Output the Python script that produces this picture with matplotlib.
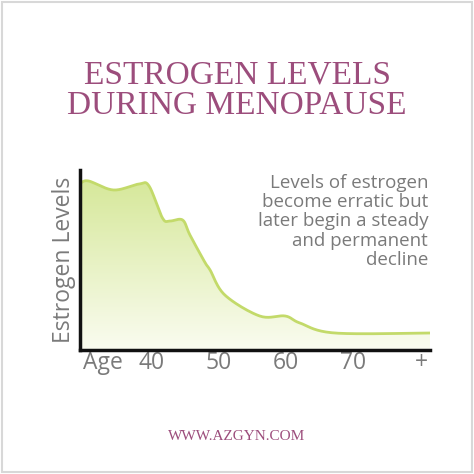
import numpy as np
import matplotlib.pyplot as plt
from matplotlib.patches import Polygon, Rectangle
from matplotlib.colors import LinearSegmentedColormap

# curve (age, relative level)
ages = [29.4, 30.6, 34.3, 38.1, 39.6, 41.6, 42.7, 44.6, 45.7, 47.9, 48.7, 50.9, 56.1, 59.9, 62.1, 67.3, 81.5]
levels = [167, 169, 160, 166, 164, 132, 129, 130, 115, 88, 80, 55, 34, 34, 27, 17, 17]
tick_pos = [32.7, 40, 50, 60, 70, 80.2]
tick_lab = ["Age", "40", "50", "60", "70", "+"]


def smooth(x, y, n=20):
    # catmull-rom through the read points, just for drawing
    x = np.asarray(x, float)
    y = np.asarray(y, float)
    px = np.concatenate([[x[0]], x, [x[-1]]])
    py = np.concatenate([[y[0]], y, [y[-1]]])
    ox, oy = [], []
    t = np.linspace(0, 1, n, endpoint=False)
    for i in range(1, len(px) - 2):
        for arr, out in ((px, ox), (py, oy)):
            p0, p1, p2, p3 = arr[i - 1], arr[i], arr[i + 1], arr[i + 2]
            out.extend(0.5 * (2 * p1 + (-p0 + p2) * t + (2 * p0 - 5 * p1 + 4 * p2 - p3) * t ** 2
                              + (-p0 + 3 * p1 - 3 * p2 + p3) * t ** 3))
    ox.append(x[-1])
    oy.append(y[-1])
    return np.array(ox), np.array(oy)


W = 474
fig = plt.figure(figsize=(4.74, 4.74), dpi=100)
fig.patches.append(Rectangle((0.004, 0.004), 0.992, 0.992, transform=fig.transFigure,
                             fill=False, ec="#d8d8d8", lw=1.5))
purple = "#9c4d7c"
grey = "#7a7a7a"

fig.text(0.5, 1 - 75 / W, "ESTROGEN LEVELS", ha="center", va="center", color=purple,
         fontsize=24, family="Liberation Serif")
fig.text(0.5, 1 - 106 / W, "DURING MENOPAUSE", ha="center", va="center", color=purple,
         fontsize=24, family="Liberation Serif")
fig.text(0.5, 1 - 437 / W, "WWW.AZGYN.COM", ha="center", va="center", color=purple,
         fontsize=11, family="Liberation Serif")

ax = fig.add_axes([80 / W, 1 - 350 / W, 350 / W, 180 / W])
ax.set_xlim(29.3, 81.5)
ax.set_ylim(0, 180)

sx, sy = smooth(ages, levels)
grad = np.linspace(0, 1, 256).reshape(-1, 1)
cmap = LinearSegmentedColormap.from_list("g", ["#fafcf0", "#d6e89a"])
img = ax.imshow(grad, extent=[29.3, 81.5, 0, 170], origin="lower", aspect="auto", cmap=cmap, zorder=1)
poly = Polygon(list(zip(sx, sy)) + [(sx[-1], 0), (sx[0], 0)], closed=True,
               fc="none", ec="none", transform=ax.transData)
ax.add_patch(poly)
img.set_clip_path(poly)
ax.plot(sx, sy, color="#c3da6a", lw=2, zorder=2)

for s in ["top", "right"]:
    ax.spines[s].set_visible(False)
for s in ["left", "bottom"]:
    ax.spines[s].set_linewidth(2.5)
    ax.spines[s].set_color("#111111")
ax.set_yticks([])
ax.set_xticks(tick_pos)
ax.set_xticklabels(tick_lab, fontsize=16.5, color=grey, family="Open Sans")
ax.tick_params(axis="x", length=0, pad=1)
ax.set_ylabel("Estrogen Levels", fontsize=16.5, color=grey, family="Open Sans", labelpad=3)

ax.text(0.995, 0.98, "Levels of estrogen\nbecome erratic but\nlater begin a steady\nand permanent\ndecline",
        transform=ax.transAxes, ha="right", va="top", fontsize=13.5, color=grey,
        family="Open Sans", linespacing=1.1)

fig.savefig("out.png", dpi=100, facecolor="white")
